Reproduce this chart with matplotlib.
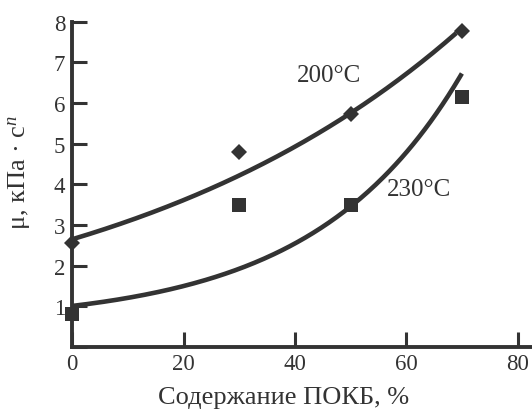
import numpy as np
import matplotlib
matplotlib.use("Agg")
import matplotlib.pyplot as plt

# Data
pokb_200 = [0, 30, 50, 70]
mu_200 = [2.55, 4.8, 5.72, 7.76]
pokb_230 = [0, 30, 50, 70]
mu_230 = [0.82, 3.5, 3.49, 6.14]

# Trend curves (parameters)
trend_200 = dict(a=2.65, b=0.0155, x_end=69.0)             # a*exp(b*x)
trend_230 = dict(a=0.58, b=0.43, c=0.038, x_end=70.0)      # a + b*exp(c*x)

x_ticks = [0, 20, 40, 60, 80]
y_ticks = [0, 1, 2, 3, 4, 5, 6, 7, 8]
y_tick_labels = ["", "1", "2", "3", "4", "5", "6", "7", "8"]
x_label = "Содержание ПОКБ, %"
y_label = "μ, кПа · с$^{n}$"
label_200 = "200°C"
label_230 = "230°C"

plt.rcParams['font.family'] = ['Liberation Serif', 'DejaVu Serif']
plt.rcParams['mathtext.fontset'] = 'custom'
plt.rcParams['mathtext.rm'] = 'Liberation Serif'
plt.rcParams['mathtext.it'] = 'Liberation Serif:italic'

C = "#333333"
fig = plt.figure(figsize=(5.32, 4.10), dpi=100)
ax = fig.add_axes([0.1359, 0.1512, 1 - 0.1359, 0.9446 - 0.1512])

ax.plot(pokb_200, mu_200, linestyle="none", marker="D", ms=8.6, mew=0, color=C, zorder=3, clip_on=False)
ax.plot(pokb_230, mu_230, linestyle="none", marker="s", ms=10, mew=0, color=C, zorder=3, clip_on=False)

xs = np.linspace(0, trend_200["x_end"], 200)
ax.plot(xs, trend_200["a"] * np.exp(trend_200["b"] * xs), color=C, lw=3.3, solid_capstyle="butt", zorder=2)
xs = np.linspace(0, trend_230["x_end"], 200)
ax.plot(xs, trend_230["a"] + trend_230["b"] * np.exp(trend_230["c"] * xs), color=C, lw=3.3, solid_capstyle="butt", zorder=2)

ax.text(46.1, 6.68, label_200, fontsize=18, color=C, ha="center", va="center")
ax.text(62.3, 3.89, label_230, fontsize=18, color=C, ha="center", va="center")

ax.set_xlim(0, 82.6)
ax.set_ylim(0, 8)
ax.set_xticks(x_ticks)
ax.set_yticks(y_ticks)
ax.set_yticklabels(y_tick_labels)

for s in ["top", "right"]:
    ax.spines[s].set_visible(False)
for s in ["left", "bottom"]:
    ax.spines[s].set_linewidth(2.8)
    ax.spines[s].set_color(C)
    ax.spines[s].set_capstyle("projecting")

ax.tick_params(axis="both", direction="in", length=11, width=2.2, color=C,
               labelsize=16.5, labelcolor=C)
ax.tick_params(axis="x", pad=4)
ax.tick_params(axis="y", pad=5)

ax.set_xlabel(x_label, fontsize=19, color=C)
ax.set_ylabel(y_label, fontsize=19, color=C)
ax.xaxis.set_label_coords(0.459, -0.12)
ax.yaxis.set_label_coords(-0.085, 0.541)

fig.savefig("out.png", dpi=100)
